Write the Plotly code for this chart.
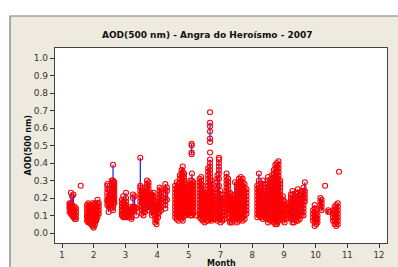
import plotly.graph_objects as go

# ---------------- data ----------------
# x position on the month axis (axis ticks as printed in the reference)
MONTH_TICK_POS = [1, 2, 3, 4, 5, 6, 7, 8, 9, 10, 11]
MONTH_TICK_LABELS = ["1", "2", "3", "4", "5", "7", "8", "9", "10", "11", "12"]
AOD_TICKS = [0.0, 0.1, 0.2, 0.3, 0.4, 0.5, 0.6, 0.7, 0.8, 0.9, 1.0]

# one entry per measurement day: position on month axis and the AOD values of that day
DAY_X = [
    1.24, 1.28, 1.32, 1.36, 1.40, 1.44, 1.59,
    1.79, 1.83, 1.87, 1.92, 1.96, 2.00, 2.04, 2.08, 2.12, 2.16,
    2.43, 2.47, 2.51, 2.57, 2.61, 2.65,
    2.89, 2.93, 2.97, 3.02, 3.07, 3.13, 3.19, 3.24, 3.29, 3.34,
    3.47, 3.52, 3.57, 3.62, 3.68, 3.73, 3.78,
    3.84, 3.89, 3.94, 3.98, 4.03, 4.08, 4.13, 4.26, 4.31,
    4.57, 4.62, 4.67, 4.72, 4.77, 4.81, 4.85, 4.90, 4.95, 5.00, 5.05, 5.09, 5.10, 5.14, 5.23,
    5.34, 5.39, 5.44, 5.50, 5.55, 5.61, 5.67, 5.67, 5.67, 5.67, 5.72, 5.78, 5.84, 5.90,
    5.95, 5.95, 6.00, 6.06, 6.12, 6.19, 6.24, 6.30, 6.36, 6.42, 6.46,
    6.52, 6.58, 6.64, 6.70, 6.76, 6.82,
    7.16, 7.21, 7.27, 7.33, 7.39, 7.44, 7.50, 7.56, 7.62, 7.68, 7.73, 7.78, 7.83, 7.88,
    7.97, 8.02, 8.08, 8.14,
    8.22, 8.27, 8.32, 8.38, 8.44, 8.50, 8.56, 8.62, 8.66,
    8.92, 8.97, 9.02, 9.06,
    9.15, 9.19, 9.30, 9.40, 9.44,
    9.55, 9.60, 9.65, 9.70, 9.74,
]

DAY_AOD = [
    [0.17, 0.16, 0.15, 0.14, 0.12],
    [0.23, 0.17, 0.15, 0.13, 0.12, 0.11],
    [0.21, 0.16, 0.14, 0.13, 0.11, 0.10],
    [0.22, 0.14, 0.13, 0.12, 0.10, 0.09],
    [0.15, 0.13, 0.11, 0.09, 0.08],
    [0.14, 0.12, 0.10, 0.08],
    [0.27],
    [0.16, 0.14, 0.12, 0.10, 0.09, 0.07],
    [0.17, 0.15, 0.13, 0.11, 0.09, 0.07, 0.06],
    [0.16, 0.14, 0.12, 0.10, 0.08, 0.06],
    [0.15, 0.13, 0.11, 0.09, 0.07, 0.05],
    [0.17, 0.15, 0.13, 0.11, 0.09, 0.07, 0.05, 0.04],
    [0.16, 0.14, 0.12, 0.10, 0.08, 0.06, 0.04, 0.03],
    [0.17, 0.15, 0.13, 0.11, 0.09, 0.07, 0.05],
    [0.16, 0.14, 0.12, 0.10, 0.08, 0.07],
    [0.19, 0.17, 0.15, 0.13, 0.11, 0.09],
    [0.17, 0.15, 0.13, 0.11],
    [0.28, 0.27, 0.25, 0.23, 0.21, 0.19, 0.18, 0.16],
    [0.25, 0.20, 0.18, 0.17, 0.15, 0.12],
    [0.22, 0.19, 0.17, 0.15],
    [0.30, 0.28, 0.26, 0.24, 0.22, 0.20, 0.18, 0.16, 0.14],
    [0.39, 0.30, 0.29, 0.27, 0.25, 0.23, 0.21, 0.19, 0.17, 0.15, 0.13],
    [0.29, 0.27, 0.25, 0.23, 0.21, 0.19, 0.17],
    [0.19, 0.17, 0.15, 0.13, 0.11, 0.10],
    [0.21, 0.18, 0.16, 0.14, 0.12, 0.10, 0.09],
    [0.17, 0.15, 0.13, 0.11, 0.09],
    [0.23, 0.20, 0.18, 0.16, 0.14, 0.12, 0.10, 0.09],
    [0.14, 0.12, 0.10, 0.09],
    [0.15, 0.13, 0.11, 0.09],
    [0.14, 0.12, 0.10, 0.09, 0.08],
    [0.22, 0.20, 0.15, 0.14, 0.13],
    [0.21, 0.15, 0.14, 0.13],
    [0.14, 0.10],
    [0.43, 0.27, 0.26, 0.24, 0.22, 0.20, 0.18, 0.16],
    [0.25, 0.23, 0.21, 0.19, 0.17, 0.15, 0.13, 0.11],
    [0.22, 0.20, 0.18, 0.16, 0.14, 0.12, 0.10],
    [0.26, 0.24, 0.22, 0.20, 0.18, 0.16, 0.14, 0.12],
    [0.30, 0.28, 0.26, 0.24, 0.22, 0.20, 0.18],
    [0.29, 0.27, 0.25, 0.22, 0.19, 0.17, 0.15, 0.13],
    [0.23, 0.21, 0.19, 0.17],
    [0.22, 0.20, 0.18, 0.16, 0.14, 0.12, 0.10],
    [0.23, 0.21, 0.19, 0.17, 0.15, 0.13, 0.11],
    [0.18, 0.16, 0.14, 0.12, 0.10, 0.08, 0.06],
    [0.15, 0.13, 0.11, 0.09, 0.07, 0.05],
    [0.20, 0.17, 0.15, 0.13, 0.11, 0.09],
    [0.26, 0.24, 0.22, 0.20, 0.18, 0.16, 0.14, 0.12],
    [0.25, 0.23, 0.21, 0.19, 0.17, 0.15, 0.13],
    [0.28, 0.25, 0.22, 0.20, 0.18, 0.16, 0.14],
    [0.26, 0.24, 0.19],
    [0.27, 0.25, 0.23, 0.21, 0.19, 0.17, 0.15, 0.13, 0.11, 0.09],
    [0.29, 0.26, 0.24, 0.22, 0.20, 0.18, 0.16, 0.14, 0.12, 0.10, 0.08],
    [0.28, 0.25, 0.23, 0.21, 0.19, 0.17, 0.15, 0.13, 0.11, 0.09, 0.07],
    [0.33, 0.31, 0.29, 0.27, 0.25, 0.23, 0.21, 0.19, 0.17, 0.15, 0.13, 0.11, 0.09],
    [0.36, 0.34, 0.32, 0.30, 0.28, 0.26, 0.24, 0.22, 0.20, 0.18, 0.16, 0.14, 0.12, 0.10, 0.08],
    [0.38, 0.35, 0.33, 0.31, 0.29, 0.27, 0.25, 0.23, 0.21, 0.19, 0.17, 0.15, 0.13, 0.11, 0.09, 0.07],
    [0.34, 0.32, 0.30, 0.28, 0.26, 0.24, 0.22, 0.20, 0.18, 0.16, 0.14, 0.12, 0.10],
    [0.28, 0.26, 0.24, 0.22, 0.20, 0.18, 0.16, 0.14, 0.12, 0.10],
    [0.26, 0.24, 0.22, 0.20, 0.18, 0.16, 0.14, 0.12, 0.11],
    [0.27, 0.25, 0.23, 0.21, 0.19, 0.17, 0.15, 0.13, 0.11],
    [0.30, 0.28, 0.26, 0.24, 0.22, 0.20, 0.18, 0.16, 0.14, 0.12, 0.10],
    [0.51, 0.50, 0.46, 0.45],
    [0.34, 0.30, 0.28, 0.26, 0.24, 0.22, 0.20, 0.18, 0.16, 0.14, 0.12, 0.10],
    [0.29, 0.27, 0.25, 0.23, 0.21, 0.19, 0.17, 0.15, 0.13, 0.11],
    [0.10],
    [0.31, 0.29, 0.27, 0.25, 0.23, 0.21, 0.19, 0.17, 0.15, 0.13, 0.11, 0.09],
    [0.32, 0.30, 0.28, 0.26, 0.24, 0.22, 0.20, 0.18, 0.16, 0.14, 0.12, 0.10, 0.08],
    [0.27, 0.24, 0.22, 0.20, 0.18, 0.16, 0.14, 0.12, 0.10, 0.08, 0.07],
    [0.22, 0.20, 0.18, 0.16, 0.14, 0.12, 0.10, 0.08, 0.06],
    [0.23, 0.21, 0.19, 0.17, 0.15, 0.13, 0.11, 0.09, 0.07],
    [0.37, 0.35, 0.33, 0.31, 0.29, 0.27, 0.25, 0.23, 0.21, 0.19, 0.17, 0.15, 0.13, 0.11, 0.09, 0.07],
    [0.69],
    [0.63, 0.61, 0.58, 0.54, 0.52],
    [0.46],
    [0.42, 0.40, 0.38, 0.36, 0.34, 0.32, 0.30, 0.28, 0.26, 0.24, 0.22, 0.20, 0.18, 0.16, 0.14, 0.12, 0.10, 0.08],
    [0.30, 0.28, 0.26, 0.24, 0.22, 0.20, 0.18, 0.16, 0.14, 0.12, 0.10, 0.08, 0.07],
    [0.25, 0.23, 0.21, 0.19, 0.17, 0.15, 0.13, 0.11, 0.09, 0.08],
    [0.21, 0.19, 0.17, 0.15, 0.13, 0.11, 0.09, 0.08],
    [0.33, 0.31, 0.29, 0.27, 0.25, 0.23, 0.21, 0.19, 0.17, 0.15, 0.13, 0.11, 0.09, 0.07],
    [0.43],
    [0.42, 0.40, 0.38, 0.36, 0.34, 0.31, 0.27, 0.20, 0.18, 0.16, 0.14, 0.12, 0.10, 0.08],
    [0.24, 0.22, 0.20, 0.18, 0.16, 0.14, 0.12, 0.10, 0.08, 0.06],
    [0.22, 0.20, 0.18, 0.16, 0.14, 0.12, 0.10, 0.08, 0.07],
    [0.20, 0.18, 0.16, 0.14, 0.12, 0.10, 0.08],
    [0.34, 0.32, 0.30, 0.28, 0.26, 0.24, 0.22, 0.20, 0.18, 0.16, 0.14],
    [0.31, 0.29, 0.27, 0.25, 0.23, 0.21, 0.19, 0.17, 0.15, 0.13, 0.11],
    [0.23, 0.21, 0.19, 0.17, 0.15, 0.13, 0.11, 0.09, 0.07, 0.06],
    [0.22, 0.20, 0.18, 0.16, 0.14, 0.12, 0.10, 0.08, 0.06],
    [0.21, 0.19, 0.17, 0.15, 0.13, 0.11, 0.09],
    [0.29, 0.19, 0.17, 0.15, 0.13, 0.11, 0.09, 0.07],
    [0.28, 0.26, 0.24, 0.22, 0.20, 0.18, 0.16, 0.14, 0.12, 0.10, 0.08, 0.06],
    [0.31, 0.29, 0.27, 0.25, 0.23, 0.21, 0.19, 0.17, 0.15, 0.13, 0.11, 0.09, 0.07],
    [0.32, 0.30, 0.28, 0.26, 0.24, 0.22, 0.20, 0.18, 0.16, 0.14, 0.12, 0.10, 0.08],
    [0.31, 0.29, 0.27, 0.25, 0.23, 0.21, 0.19, 0.17, 0.15, 0.13, 0.11, 0.09, 0.07],
    [0.28, 0.26, 0.24, 0.22, 0.20, 0.18, 0.16, 0.14, 0.12, 0.10, 0.08],
    [0.25, 0.23, 0.21, 0.19, 0.17, 0.15, 0.13, 0.11],
    [0.27, 0.25, 0.23, 0.21, 0.19, 0.17, 0.15, 0.13, 0.11, 0.09],
    [0.34, 0.30, 0.28, 0.26, 0.24, 0.22, 0.20, 0.18, 0.16, 0.14, 0.12, 0.10],
    [0.26, 0.24, 0.22, 0.20, 0.18, 0.16, 0.14, 0.12, 0.10, 0.09],
    [0.30, 0.28, 0.26, 0.24, 0.22, 0.20, 0.18, 0.16, 0.14, 0.12, 0.10, 0.08],
    [0.24, 0.22, 0.20, 0.18, 0.16, 0.14, 0.12, 0.10, 0.09],
    [0.28, 0.26, 0.24, 0.22, 0.20, 0.18, 0.16, 0.14, 0.12, 0.10, 0.08],
    [0.32, 0.30, 0.28, 0.26, 0.24, 0.22, 0.20, 0.18, 0.16, 0.14, 0.12, 0.10, 0.08, 0.06],
    [0.29, 0.27, 0.25, 0.23, 0.21, 0.19, 0.17, 0.15, 0.13, 0.11, 0.09, 0.07],
    [0.33, 0.31, 0.29, 0.27, 0.25, 0.23, 0.21, 0.19, 0.17, 0.15, 0.13, 0.11, 0.09, 0.07],
    [0.36, 0.34, 0.32, 0.30, 0.28, 0.26, 0.24, 0.22, 0.20, 0.18, 0.16, 0.14, 0.12, 0.10, 0.08, 0.06],
    [0.39, 0.37, 0.27, 0.25, 0.23, 0.21, 0.19, 0.17, 0.15, 0.13, 0.11, 0.09, 0.07, 0.05],
    [0.40, 0.38, 0.36, 0.34, 0.32, 0.30, 0.28, 0.26, 0.24, 0.22, 0.20, 0.18, 0.16, 0.14, 0.12, 0.10, 0.08, 0.06, 0.05],
    [0.41, 0.39, 0.37, 0.35, 0.33, 0.31, 0.29, 0.27, 0.25, 0.23, 0.21, 0.19, 0.17, 0.15, 0.13, 0.11, 0.09, 0.07],
    [0.30, 0.28, 0.26, 0.24, 0.22, 0.20, 0.18, 0.16, 0.14, 0.12, 0.10, 0.08],
    [0.21, 0.19, 0.17, 0.15, 0.13, 0.11, 0.09, 0.07],
    [0.18, 0.16, 0.14, 0.12, 0.10, 0.08, 0.06],
    [0.16, 0.14, 0.12, 0.10, 0.08],
    [0.17, 0.15, 0.13, 0.11, 0.09],
    [0.22, 0.20, 0.18, 0.16, 0.14, 0.12, 0.10, 0.08],
    [0.24, 0.22, 0.20, 0.18, 0.16, 0.14, 0.12, 0.10, 0.08, 0.06],
    [0.20, 0.18, 0.16, 0.14, 0.12, 0.10, 0.08, 0.06],
    [0.23, 0.21, 0.19, 0.17, 0.15, 0.13, 0.11, 0.09, 0.07],
    [0.25, 0.23, 0.21, 0.19, 0.17, 0.15, 0.13, 0.11, 0.09, 0.07],
    [0.22, 0.20, 0.18, 0.16, 0.14, 0.12, 0.10, 0.08],
    [0.24, 0.22, 0.20, 0.18, 0.16, 0.14, 0.12, 0.10],
    [0.26, 0.24, 0.22, 0.20, 0.18, 0.16, 0.14, 0.12, 0.10],
    [0.29, 0.24, 0.22, 0.20, 0.18],
    [0.13, 0.11, 0.09, 0.07],
    [0.16, 0.14, 0.12, 0.10, 0.08, 0.06, 0.04],
    [0.13, 0.11, 0.09, 0.07, 0.05],
    [0.10, 0.08, 0.06],
    [0.20, 0.18, 0.16, 0.14],
    [0.19, 0.17, 0.15, 0.13],
    [0.27],
    [0.13, 0.12],
    [0.12],
    [0.13, 0.11, 0.09, 0.07],
    [0.15, 0.13, 0.11, 0.09, 0.07, 0.05],
    [0.16, 0.14, 0.12, 0.10, 0.08, 0.06, 0.04],
    [0.17, 0.15, 0.13, 0.11, 0.09, 0.07, 0.05],
    [0.35],
]

TITLE = "AOD(500 nm) - Angra do Heroísmo - 2007"
X_TITLE = "Month"
Y_TITLE = "AOD(500 nm)"

# ---------------- build series (days separated by gaps) ----------------
xs, ys = [], []
for dx, vals in zip(DAY_X, DAY_AOD):
    for v in vals:
        xs.append(dx)
        ys.append(v)
    xs.append(None)
    ys.append(None)

FONT = "DejaVu Sans"
BEIGE = "#EEEAE0"

fig = go.Figure()
fig.add_trace(go.Scatter(
    x=xs, y=ys, mode="lines+markers",
    line=dict(color="#1a1aff", width=1.2),
    marker=dict(symbol="circle-open", size=5, color="#ff0000", line=dict(width=1.1, color="#ff0000")),
    connectgaps=False, showlegend=False, hoverinfo="skip",
))

W, H = 398, 267
L, R, T, B = 55, 11, 48, 24
pw, ph = W - L - R, H - T - B

def px_to_paper_x(px):
    return (px - L) / pw

def py_to_paper_y(py):
    return (H - B - py) / ph

fig.update_layout(
    width=W, height=H,
    margin=dict(l=L, r=R, t=T, b=B, pad=0, autoexpand=False),
    paper_bgcolor="white", plot_bgcolor="white",
    font=dict(family=FONT, size=9, color="#333333"),
    showlegend=False,
    shapes=[
        dict(type="rect", xref="paper", yref="paper", layer="below",
             x0=px_to_paper_x(10), x1=px_to_paper_x(420),
             y0=py_to_paper_y(290), y1=py_to_paper_y(16),
             fillcolor=BEIGE, line=dict(color="#7a7a7a", width=1.2)),
        dict(type="rect", xref="paper", yref="paper", layer="below",
             x0=0, x1=1, y0=0, y1=1, fillcolor="white", line=dict(width=0)),
    ],
    annotations=[
        dict(text="<b>" + TITLE + "</b>", xref="paper", yref="paper",
             x=px_to_paper_x(207), y=py_to_paper_y(35), xanchor="center", yanchor="middle",
             showarrow=False, font=dict(family=FONT, size=9, color="#111111")),
        dict(text="<b>" + Y_TITLE + "</b>", xref="paper", yref="paper",
             x=px_to_paper_x(28), y=0.5, xanchor="center", yanchor="middle",
             textangle=-90, showarrow=False, font=dict(family=FONT, size=8, color="#111111")),
        dict(text="<b>" + X_TITLE + "</b>", xref="paper", yref="paper",
             x=0.5, y=py_to_paper_y(257), xanchor="center", yanchor="top",
             showarrow=False, font=dict(family=FONT, size=8, color="#111111")),
    ],
)

fig.update_xaxes(
    automargin=False,
    range=[1 - 7 / 31.7, 11 + 8 / 31.7],
    tickvals=MONTH_TICK_POS, ticktext=MONTH_TICK_LABELS,
    ticks="outside", ticklen=3.5, tickwidth=1, tickcolor="#333333",
    showline=True, linecolor="#444444", linewidth=1.3, mirror=True,
    showgrid=False, zeroline=False,
    tickfont=dict(family=FONT, size=8.5, color="#333333"),
)
fig.update_yaxes(
    automargin=False,
    range=[-10 / 175, 1 + 10 / 175],
    tickvals=AOD_TICKS, tickformat=".1f",
    ticks="outside", ticklen=4, tickwidth=1, tickcolor="#333333",
    showline=True, linecolor="#444444", linewidth=1.3, mirror=True,
    showgrid=False, zeroline=False,
    tickfont=dict(family=FONT, size=9, color="#333333"),
)

fig.write_html(
    "out.html",
    config={"displayModeBar": False},
    post_script="document.body.style.margin='0px';document.body.style.overflow='hidden';",
)
